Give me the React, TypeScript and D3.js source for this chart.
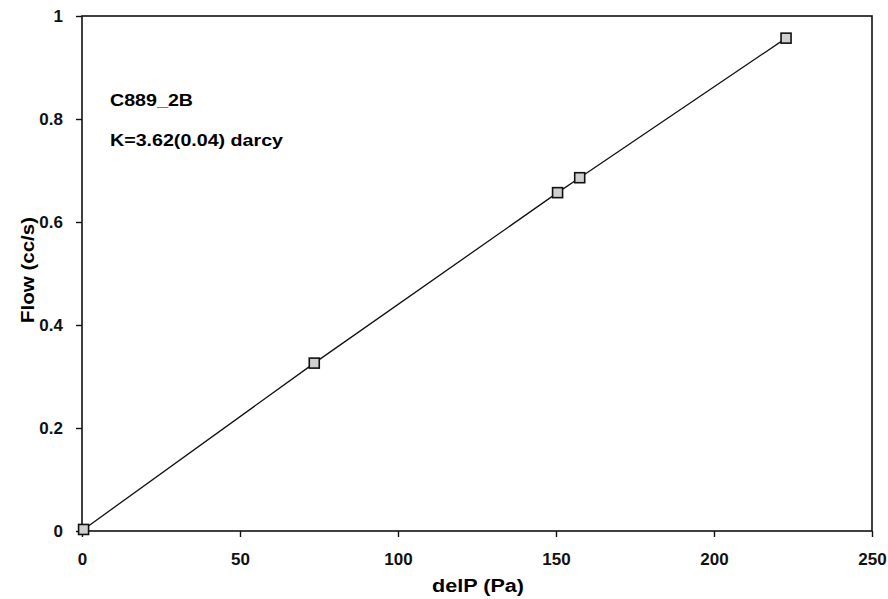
import * as d3 from "d3";
import { useEffect, useRef } from "react";

// measured points (delP in Pa, flow in cc/s)
const delP = [0.5, 73.5, 150.5, 157.5, 222.8];
const flow = [0.003, 0.326, 0.657, 0.686, 0.957];
const xTicks = [0, 50, 100, 150, 200, 250];
const yTicks = [0, 0.2, 0.4, 0.6, 0.8, 1];
const notes = ["C889_2B", "K=3.62(0.04) darcy"];

const App = () => {
  const ref = useRef<SVGSVGElement>(null);

  useEffect(() => {
    const svg = d3.select(ref.current);
    svg.selectAll("*").remove();

    const margin = { top: 16, right: 16, bottom: 68, left: 82 };
    const width = 888, height = 599;

    const x = d3.scaleLinear().domain([0, 250]).range([margin.left, width - margin.right]);
    const y = d3.scaleLinear().domain([0, 1]).range([height - margin.bottom, margin.top]);

    const font = "Arial, 'Liberation Sans', sans-serif";

    // frame
    svg.append("rect")
      .attr("x", x(0)).attr("y", y(1))
      .attr("width", x(250) - x(0)).attr("height", y(0) - y(1))
      .attr("fill", "none").attr("stroke", "#111").attr("stroke-width", 1.6);

    // x axis
    const xa = svg.append("g")
      .attr("transform", `translate(0,${y(0)})`)
      .call(d3.axisBottom(x).tickValues(xTicks).tickSize(6).tickPadding(16).tickFormat(d3.format("d")));
    xa.select(".domain").remove();
    xa.selectAll("line").attr("stroke", "#111").attr("stroke-width", 1.4);
    xa.selectAll("text").attr("font-family", font).attr("font-weight", "bold")
      .attr("font-size", 17).attr("fill", "#111");

    // y axis
    const ya = svg.append("g")
      .attr("transform", `translate(${x(0)},0)`)
      .call(d3.axisLeft(y).tickValues(yTicks).tickSize(6).tickPadding(13).tickFormat(d => String(d)));
    ya.select(".domain").remove();
    ya.selectAll("line").attr("stroke", "#111").attr("stroke-width", 1.4);
    ya.selectAll("text").attr("font-family", font).attr("font-weight", "bold")
      .attr("font-size", 17).attr("fill", "#111");

    // axis titles
    svg.append("text")
      .attr("x", 478 - 46).attr("y", 592)
      .attr("textLength", 92).attr("lengthAdjust", "spacingAndGlyphs")
      .attr("font-family", font).attr("font-weight", "bold").attr("font-size", 18)
      .text("delP (Pa)");
    svg.append("text")
      .attr("transform", `translate(34,${270 + 53}) rotate(-90)`)
      .attr("textLength", 106).attr("lengthAdjust", "spacingAndGlyphs")
      .attr("font-family", font).attr("font-weight", "bold").attr("font-size", 18)
      .text("Flow (cc/s)");

    // annotations
    const noteLen = [83, 173];
    svg.selectAll("text.note").data(notes).enter().append("text")
      .attr("class", "note")
      .attr("x", 110).attr("y", (d, i) => 106 + i * 40)
      .attr("textLength", (d, i) => noteLen[i]).attr("lengthAdjust", "spacingAndGlyphs")
      .attr("font-family", font).attr("font-weight", "bold").attr("font-size", 17)
      .text(d => d);

    const pts = delP.map((d, i) => [d, flow[i]] as [number, number]);

    // fitted line
    svg.append("path")
      .datum(pts)
      .attr("d", d3.line<[number, number]>().x(d => x(d[0])).y(d => y(d[1])))
      .attr("fill", "none").attr("stroke", "#111").attr("stroke-width", 1.3);

    // markers
    const s = 10;
    svg.selectAll("rect.pt").data(pts).enter().append("rect")
      .attr("class", "pt")
      .attr("x", d => x(d[0]) - s / 2).attr("y", d => y(d[1]) - s / 2)
      .attr("width", s).attr("height", s)
      .attr("fill", "#cfcfcf").attr("stroke", "#111").attr("stroke-width", 1.6);
  }, []);

  return <svg ref={ref} width={888} height={599} style={{ position: "absolute", left: 0, top: 0 }} />;
};

export default App;
